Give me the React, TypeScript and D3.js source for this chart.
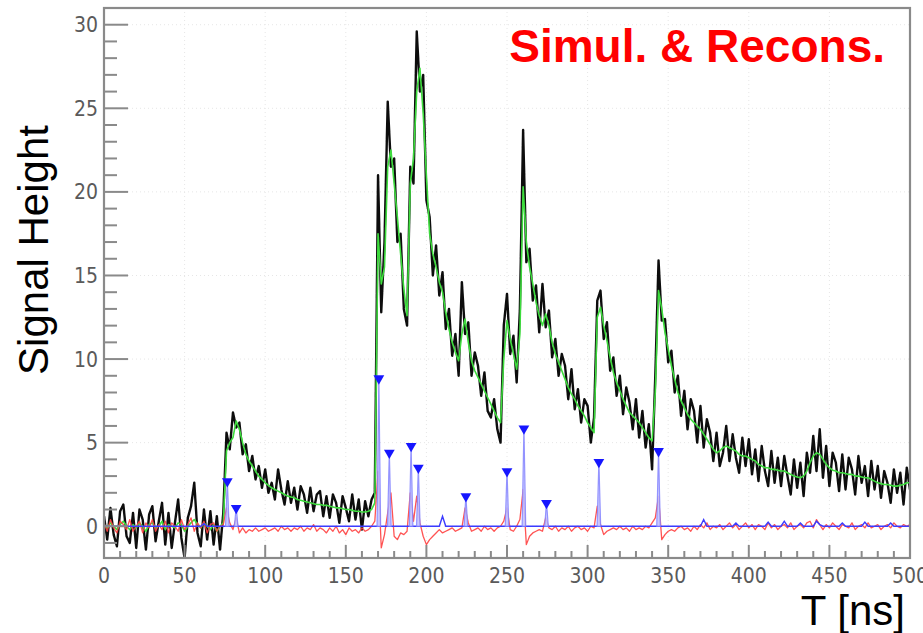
import React from 'react';
import * as d3 from 'd3';

// sample times (ns), one every 2 ns
const sampleT = d3.range(0, 501, 2);

// simulated signal (black)
const signal = [
  0.6, -0.8, 1.1, -0.5, -1.2, 0.9, 1.3, -0.6, -1.0, 0.8,
  -1.3, 1.0, 0.4, -1.4, 0.7, 1.2, -0.9, 0.3, 1.4, -1.1,
  0.8, -1.3, 0.2, 1.6, -0.7, -1.9, 0.5, 1.2, 2.6, -0.4,
  -1.2, 1.0, -0.8, 0.9, -1.1, 0.6, -1.4, 0.8, 5.6, 4.6,
  6.8, 5.9, 6.2, 4.3, 4.9, 3.3, 4.2, 2.8, 3.6, 2.3,
  3.4, 2.0, 2.6, 1.6, 3.4, 2.2, 1.3, 2.7, 1.4, 2.3,
  1.0, 2.4, 1.9, 0.8, 2.3, 0.9, 1.9, 2.1, 0.6, 1.8,
  0.5, 1.9, 1.4, 0.2, 1.8, 1.1, 0.3, 1.9, 0.4, 1.6,
  -0.2, 1.5, 0.6, 1.6, 2.0, 21.0, 12.8, 17.0, 25.4, 21.5,
  22.0, 17.0, 17.5, 13.0, 12.0, 21.5, 20.5, 29.6, 26.0, 27.0,
  19.5, 18.5, 15.0, 16.8, 13.8, 15.2, 11.8, 13.0, 10.2, 11.5,
  9.0, 14.6, 11.5, 12.2, 9.0, 10.4, 9.6, 7.8, 9.2, 6.9,
  6.5, 7.6, 5.8, 5.0, 12.0, 13.9, 10.3, 11.4, 8.6, 13.0,
  23.7, 15.8, 16.6, 13.5, 14.4, 11.6, 14.5, 11.9, 12.9, 10.1,
  11.2, 9.0, 10.3, 9.6, 7.6, 9.4, 7.0, 8.2, 6.2, 7.6,
  7.2, 5.0, 6.5, 13.5, 14.1, 11.2, 12.2, 9.3, 10.1, 7.8,
  9.0, 6.7, 8.3, 7.4, 5.8, 7.6, 5.3, 6.9, 4.7, 6.1,
  3.4, 9.0, 15.9, 12.3, 12.4, 9.8, 10.5, 8.0, 9.0, 6.6,
  8.1, 5.8, 7.6, 6.9, 5.0, 7.2, 4.7, 6.4, 5.6, 3.9,
  5.6, 3.6, 4.4, 6.0, 3.9, 5.5, 4.1, 3.2, 5.3, 3.6,
  5.2, 3.1, 4.6, 2.7, 4.8, 3.3, 2.4, 4.5, 2.6, 4.1,
  2.4, 4.2, 3.0, 1.9, 4.0, 2.3, 3.8, 1.8, 4.4, 3.2,
  5.4, 3.3, 5.8, 2.9, 4.8, 2.4, 4.4, 3.8, 2.1, 4.3,
  2.2, 4.1, 3.4, 1.9, 4.2, 2.6, 3.6, 1.8, 3.9, 2.2,
  3.6, 1.7, 3.3, 2.6, 1.4, 3.4, 2.0, 3.2, 1.3, 3.5,
  2.2,
];

// reconstructed fit (green)
const fit = [
  0.1, -0.1, 0.2, 0.0, -0.2, 0.1, 0.3, 0.0, -0.2, 0.1,
  -0.1, 0.2, 0.0, -0.3, 0.1, 0.2, -0.1, 0.0, 0.3, -0.2,
  0.1, 0.0, -0.1, 0.2, 0.1, -0.3, 0.0, 0.2, 0.4, 0.1,
  -0.1, 0.2, 0.0, -0.2, 0.1, -0.3, 0.0, 0.2, 4.5, 5.0,
  5.3, 6.3, 5.8, 5.0, 4.3, 3.9, 3.6, 3.3, 3.0, 2.8,
  2.6, 2.45, 2.3, 2.2, 2.1, 2.0, 1.9, 1.8, 1.75, 1.7,
  1.6, 1.55, 1.5, 1.45, 1.4, 1.35, 1.3, 1.3, 1.25, 1.25,
  1.2, 1.15, 1.1, 1.1, 1.05, 1.0, 1.0, 0.95, 0.9, 0.9,
  0.85, 0.85, 0.9, 1.0, 1.4, 17.5, 14.5, 15.5, 21.5, 22.5,
  20.5, 18.5, 16.3, 14.2, 12.6, 20.5, 22.0, 26.0, 27.4, 24.7,
  21.0, 17.5, 16.3, 15.5, 14.6, 14.0, 12.8, 11.8, 11.0, 10.4,
  9.9, 11.5, 12.4, 11.0, 9.9, 9.3, 8.9, 8.5, 8.1, 7.7,
  7.3, 6.9, 6.5, 6.2, 10.0, 12.3, 11.2, 10.3, 9.4, 11.5,
  20.3, 17.0, 15.5, 14.5, 13.4, 12.6, 12.0, 12.7, 12.0, 11.0,
  10.3, 9.8, 9.3, 8.8, 8.3, 7.9, 7.6, 7.2, 6.9, 6.6,
  6.2, 5.9, 5.6, 12.5, 13.1, 12.0, 11.1, 10.1, 9.2, 8.6,
  8.1, 7.6, 7.2, 6.8, 6.6, 6.4, 6.2, 5.9, 5.6, 5.3,
  5.1, 8.0, 14.1, 13.0, 11.6, 10.6, 9.6, 8.8, 8.0, 7.5,
  7.1, 6.7, 6.4, 6.2, 6.0, 5.8, 5.5, 5.2, 4.9, 4.6,
  4.4, 4.5, 4.7, 4.8, 4.7, 4.6, 4.5, 4.3, 4.2, 4.2,
  4.1, 4.0, 3.9, 3.7, 3.6, 3.5, 3.5, 3.4, 3.4, 3.35,
  3.3, 3.3, 3.2, 3.1, 3.0, 2.95, 2.9, 3.0, 3.3, 3.8,
  4.2, 4.4, 4.3, 4.0, 3.7, 3.5, 3.35, 3.3, 3.2, 3.2,
  3.15, 3.1, 3.1, 3.0, 3.0, 2.95, 2.9, 2.9, 2.8, 2.7,
  2.6, 2.55, 2.5, 2.5, 2.45, 2.4, 2.4, 2.45, 2.5, 2.6,
  2.6,
];

// residual (red)
const residual = [
  0.2, -0.3, 0.4, -0.1, -0.4, 0.3, 0.1, -0.2, 0.4, -0.3,
  0.0, 0.3, -0.4, 0.2, -0.1, 0.4, -0.3, 0.1, -0.2, 0.3,
  -0.4, 0.2, 0.0, -0.3, 0.4, -0.2, 0.1, 0.5, -0.3, 0.2,
  -0.1, 0.3, -0.4, 0.1, 0.2, -0.3, 0.0, 0.1, 1.1, 0.2,
  -0.2, 0.5, -0.4, -0.1, -0.4, -0.2, -0.3, -0.1, -0.3, -0.2,
  -0.1, -0.3, -0.2, -0.1, -0.3, 0.0, -0.2, -0.1, -0.3, -0.1,
  -0.2, 0.0, -0.3, -0.1, -0.2, 0.1, -0.3, -0.1, -0.2, -0.4,
  -0.1, -0.3, 0.0, -0.4, -0.2, -0.5, -0.1, -0.3, -0.2, -0.4,
  -0.1, -0.3, -0.2, 0.0, 0.3, 3.3, -1.3, -0.5, 0.8, 2.0,
  -0.6, -0.8, -0.4, -0.5, -0.3, 2.0, 0.3, 1.8, 0.2, -0.6,
  -1.1, -0.8, -0.6, -0.4, -0.2, -0.4, -0.3, -0.2, -0.1, -0.3,
  -0.2, -0.1, 1.1, 0.2, -0.3, -0.2, -0.1, -0.3, 0.0, -0.2,
  -0.1, -0.3, -0.1, 0.0, 0.3, 1.1, -0.2, -0.3, 0.0, 0.4,
  2.2, -1.1, -0.6, -0.4, -0.3, -0.2, -0.3, 0.5, -0.1, -0.2,
  0.0, -0.3, -0.1, -0.2, 0.0, -0.3, -0.1, 0.0, -0.2, -0.1,
  -0.3, 0.0, -0.1, 1.2, 0.1, -0.5, -0.3, -0.2, -0.1, -0.2,
  0.0, -0.2, -0.1, -0.3, 0.0, -0.2, -0.1, -0.2, 0.0, -0.1,
  0.2, 0.5, 1.8, -0.8, -0.5, -0.3, -0.2, -0.3, -0.1, 0.0,
  -0.2, -0.1, -0.3, 0.0, -0.2, 0.1, -0.1, 0.2, -0.2, 0.0,
  -0.1, 0.1, -0.2, 0.0, 0.2, -0.1, 0.1, -0.2, 0.0, 0.2,
  -0.1, 0.1, -0.2, 0.1, 0.0, -0.2, 0.2, -0.1, 0.1, -0.2,
  0.0, 0.1, -0.1, 0.2, -0.2, 0.0, 0.1, -0.1, 0.2, 0.3,
  -0.1, 0.4, 0.1, -0.2, 0.1, -0.1, 0.2, 0.0, -0.2, 0.1,
  0.0, -0.1, 0.2, -0.2, 0.0, 0.1, -0.1, 0.2, -0.1, 0.0,
  0.1, -0.2, 0.0, 0.1, -0.1, 0.2, 0.0, -0.1, 0.1, 0.0,
  0.1,
];

// reconstructed pulses (blue)
const pulseT = [76.5, 82, 170.5, 177, 190.5, 195, 224.5, 250, 260.5, 274.5, 307, 344];
const pulseA = [2.75, 1.15, 8.9, 4.45, 4.85, 3.55, 1.85, 3.35, 5.9, 1.45, 3.9, 4.55];

// blue baseline between pulses
const baseT = [0, 60, 62, 64, 208, 210, 212, 370, 372, 374, 376, 390, 392, 394, 410, 412, 414,
  420, 422, 424, 430, 432, 434, 440, 442, 444, 446, 456, 458, 460, 470, 472, 474, 486, 488, 490, 500];
const baseV = [0, 0, 0.15, 0, 0, 0.6, 0, 0, 0.4, 0, 0, 0, 0.2, 0, 0, 0.25, 0,
  0, 0.3, 0, 0, 0.2, 0, 0, 0.3, 0.1, 0, 0, 0.2, 0, 0, 0.25, 0, 0, 0.2, 0, 0];

const W = 923;
const H = 633;
const tickFont = "'Liberation Sans Narrow', 'DejaVu Sans Condensed', Arial, sans-serif";

const App = () => {
  const x = d3.scaleLinear().domain([0, 500]).range([104, 910]);
  const y = d3.scaleLinear().domain([-1.9, 31]).range([558, 8]);
  const [x0, x1] = x.range();
  const [y0, y1] = y.range();

  const sampleLine = d3
    .line<number>()
    .x((_, i) => x(sampleT[i]))
    .y((d) => y(d));
  const baseLine = d3
    .line<number>()
    .x((_, i) => x(baseT[i]))
    .y((d) => y(d));
  const tri = d3.symbol().type(d3.symbolTriangle).size(50)();

  const yMajor = y.ticks(6);
  const yMinor = y.ticks(35).filter((v) => v % 5 !== 0);
  const xMajor = x.ticks(10);
  const xMinor = x.ticks(50).filter((v) => v % 50 !== 0);

  return (
    <svg width={W} height={H} style={{ position: 'absolute', left: 0, top: 0, background: '#fff' }}>
      <defs>
        <filter id="soft" x="-5%" y="-5%" width="110%" height="110%">
          <feGaussianBlur stdDeviation="0.5" />
        </filter>
        <clipPath id="plot">
          <rect x={x0} y={y1} width={x1 - x0} height={y0 - y1} />
        </clipPath>
      </defs>

      {/* faint grid */}
      <g stroke="#e6e6e6" strokeWidth="1" strokeDasharray="1 3">
        {xMajor.map((t) => (
          <line key={'gx' + t} x1={x(t)} x2={x(t)} y1={y1} y2={y0} />
        ))}
        {yMajor.map((t) => (
          <line key={'gy' + t} x1={x0} x2={x1} y1={y(t)} y2={y(t)} />
        ))}
      </g>

      {/* data */}
      <g clipPath="url(#plot)" filter="url(#soft)">
        <path d={sampleLine(signal) || ''} fill="none" stroke="#111" strokeWidth="2.4" strokeLinejoin="round" />
        <path d={sampleLine(fit) || ''} fill="none" stroke="#3ddc3d" strokeWidth="1.6" strokeLinejoin="round" />
        <path d={sampleLine(residual) || ''} fill="none" stroke="#ff4040" strokeWidth="1.3" strokeLinejoin="round" opacity="0.9" />
        <path d={baseLine(baseV) || ''} fill="none" stroke="#3a3aff" strokeWidth="1.4" />
        {pulseT.map((t, i) => (
          <path
            key={'st' + i}
            d={`M${x(t - 1.1)},${y(0)}L${x(t)},${y(pulseA[i])}L${x(t + 1.1)},${y(0)}Z`}
            fill="#c4c4ff"
            stroke="#8888ff"
            strokeWidth="1.2"
            opacity="0.9"
          />
        ))}
        {pulseT.map((t, i) => (
          <path
            key={'mk' + i}
            d={tri || ''}
            transform={`translate(${x(t)},${y(pulseA[i]) + 1}) rotate(180)`}
            fill="#1818ff"
          />
        ))}
      </g>

      {/* frame */}
      <rect x={x0} y={y1} width={x1 - x0} height={y0 - y1} fill="none" stroke="#8a8a8a" strokeWidth="2.2" />

      {/* ticks */}
      <g stroke="#8a8a8a" strokeWidth="2">
        {yMajor.map((t) => (
          <line key={'ym' + t} x1={x0} x2={x0 + 24} y1={y(t)} y2={y(t)} />
        ))}
        {yMinor.map((t) => (
          <line key={'yn' + t} x1={x0} x2={x0 + 13} y1={y(t)} y2={y(t)} />
        ))}
        {xMajor.map((t) => (
          <line key={'xm' + t} x1={x(t)} x2={x(t)} y1={y0} y2={y0 - 13} />
        ))}
        {xMinor.map((t) => (
          <line key={'xn' + t} x1={x(t)} x2={x(t)} y1={y0} y2={y0 - 7} />
        ))}
      </g>

      {/* tick labels */}
      <g fontFamily={tickFont} fontSize="21" fill="#5a5a5a">
        {yMajor.map((t) => (
          <text key={'yl' + t} x={x0 - 6} y={y(t) + 7.5} textAnchor="end">
            {t}
          </text>
        ))}
        {xMajor.map((t) => (
          <text key={'xl' + t} x={x(t)} y={583} textAnchor="middle">
            {t}
          </text>
        ))}
      </g>

      {/* titles */}
      <text
        transform="translate(48,250) rotate(-90)"
        textAnchor="middle"
        fontFamily="Arial, 'Liberation Sans', sans-serif"
        fontSize="42"
        fill="#000"
      >
        Signal Height
      </text>
      <text x={905} y={625} textAnchor="end" fontFamily="Arial, 'Liberation Sans', sans-serif" fontSize="42" fill="#000">
        T [ns]
      </text>
      <text
        x={885}
        y={62}
        textAnchor="end"
        fontFamily="Arial, 'Liberation Sans', sans-serif"
        fontSize="46"
        fontWeight="bold"
        fill="#ff0000"
      >
        Simul. &amp; Recons.
      </text>
    </svg>
  );
};

export default App;
